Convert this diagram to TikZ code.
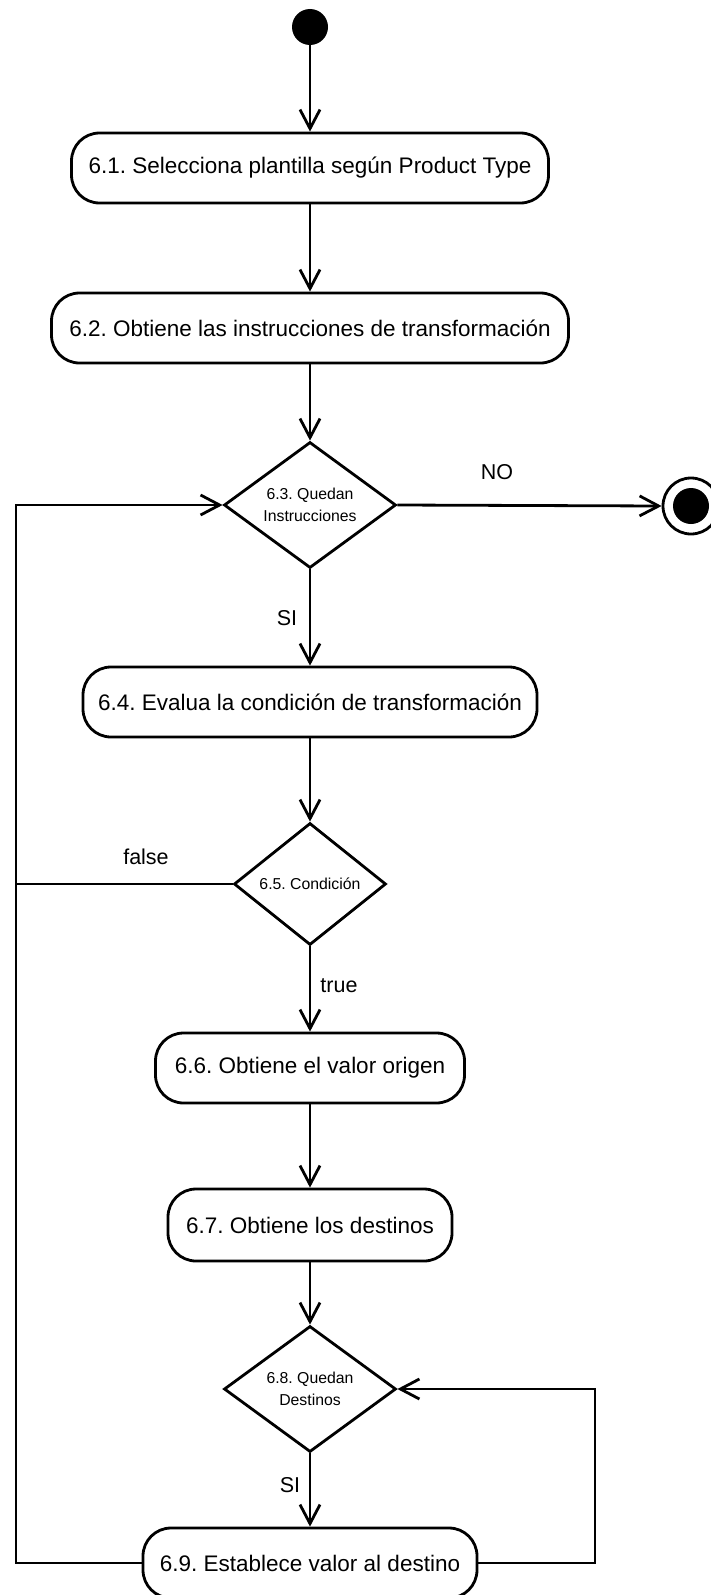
\documentclass[tikz,border=0pt]{standalone}
\usepackage{fontspec}
\setmainfont{Liberation Sans}
\usetikzlibrary{shapes.geometric,arrows.meta}
\frenchspacing
\newcommand\boxfont{\fontsize{22.5}{27}\selectfont}
\newcommand\decfont{\fontsize{15.8}{22}\selectfont}
\newcommand\lblfont{\fontsize{21.5}{24}\selectfont}
\tikzset{
  act/.style={draw, line width=2.8pt, rounded corners=28pt, inner sep=0pt, minimum height=70pt, font=\boxfont},
  dec/.style={draw, line width=2.8pt, diamond, inner sep=0pt, align=center, font=\decfont},
  flow/.style={line width=2.8pt, -{Straight Barb[length=19pt,width=20pt]}},
  plain/.style={line width=2.8pt},
  lbl/.style={font=\lblfont, inner sep=0pt}
}
\begin{document}
\begin{tikzpicture}[x=1pt,y=-1pt]
\useasboundingbox (0,0) rectangle (711,1595);
\fill[white] (0,0) rectangle (711,1595);

\node[circle, fill=black, minimum size=36pt, inner sep=0pt] (start) at (310,27) {};
\node[act, minimum width=477pt] (b1) at (310,168) {6.1. Selecciona plantilla según Product Type};
\node[act, minimum width=517pt] (b2) at (310,328) {6.2. Obtiene las instrucciones de transformación};
\node[dec, aspect=1.37, minimum width=172pt, minimum height=126pt] (d3) at (310,505) {6.3. Quedan\\Instrucciones};
\node[circle, draw, line width=2.8pt, minimum size=56pt, inner sep=0pt] (end) at (691,506) {};
\node[circle, fill=black, minimum size=36pt, inner sep=0pt] (endin) at (end.center) {};
\node[act, minimum width=454pt] (b4) at (310,702) {6.4. Evalua la condición de transformación};
\node[dec, aspect=1.25, minimum width=152pt, minimum height=122pt] (d5) at (310,884) {6.5. Condición};
\node[act, minimum width=309pt] (b6) at (310,1068) {6.6. Obtiene el valor origen};
\node[act, minimum width=284pt, minimum height=72pt] (b7) at (310,1225) {6.7. Obtiene los destinos};
\node[dec, aspect=1.37, minimum width=172pt, minimum height=126pt] (d8) at (310,1389) {6.8. Quedan\\Destinos};
\node[act, minimum width=334pt] (b9) at (310,1563) {6.9. Establece valor al destino};

\coordinate (ll) at (16,505);
\coordinate (rr) at (595,1389);

\draw[flow] (start) -- (b1);
\draw[flow] (b1) -- (b2);
\draw[flow] (b2) -- (d3.north);
\draw[flow] (d3.east) -- (end.west);
\draw[flow] (d3.south) -- (b4);
\draw[flow] (b4) -- (d5.north);
\draw[flow] (d5.south) -- (b6);
\draw[flow] (b6) -- (b7);
\draw[flow] (b7) -- (d8.north);
\draw[flow] (d8.south) -- (b9);
\draw[flow] (b9.east) -| (rr) -- (d8.east);
\draw[flow] (b9.west) -| (ll) -- (d3.west);
\draw[plain] (d5.west) -- (d5.west -| ll);

\node[lbl] (lno) at (497,472) {NO};
\node[lbl] (lsi1) at (287,618) {SI};
\node[lbl] (lfalse) at (146,857) {false};
\node[lbl] (ltrue) at (339,986) {true};
\node[lbl] (lsi2) at (290,1485) {SI};
\end{tikzpicture}
\end{document}
